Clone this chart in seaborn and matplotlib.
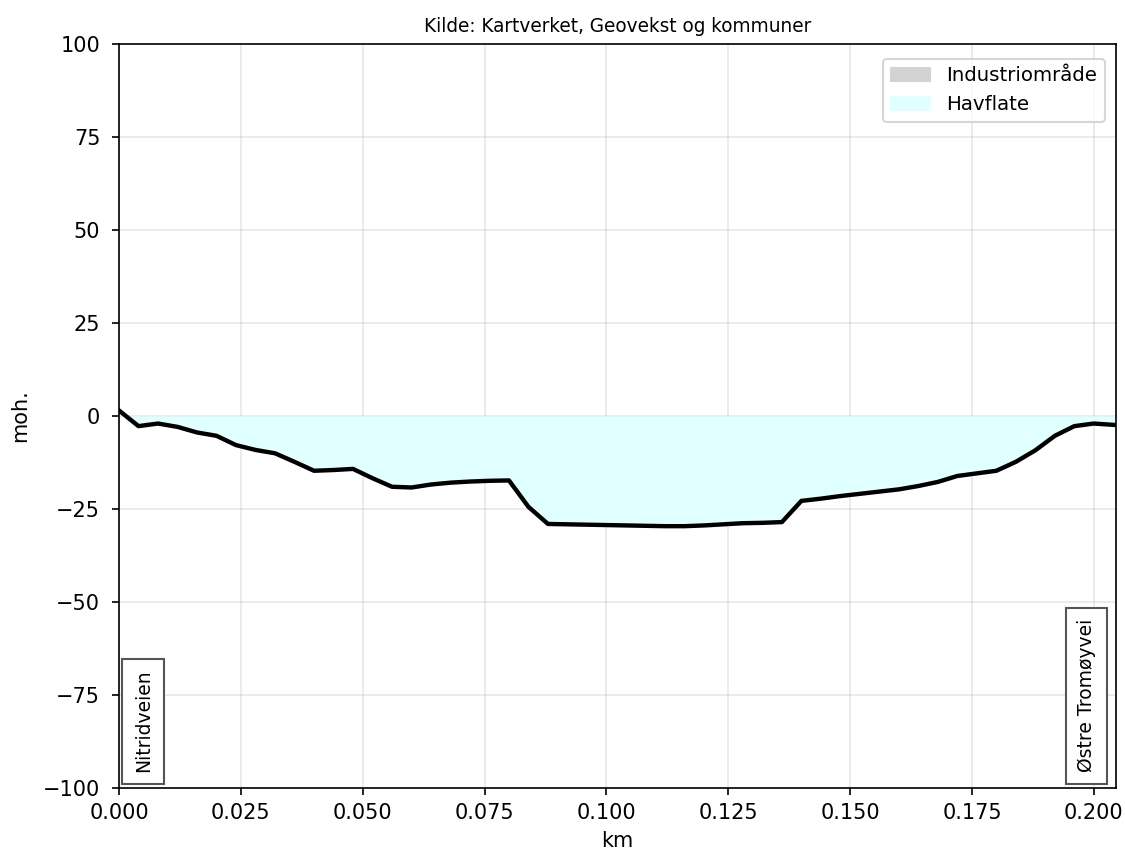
import matplotlib
matplotlib.use("Agg")
import matplotlib.pyplot as plt
import matplotlib.patches as mpatches
import seaborn as sns
import pandas as pd

# Terrain profile along the line (distance in km, elevation in metres above sea level)
distance_km = [0.000, 0.004, 0.008, 0.012, 0.016, 0.020, 0.024, 0.028, 0.032, 0.036,
               0.040, 0.044, 0.048, 0.052, 0.056, 0.060, 0.064, 0.068, 0.072, 0.076,
               0.080, 0.084, 0.088, 0.092, 0.096, 0.100, 0.104, 0.108, 0.112, 0.116,
               0.120, 0.124, 0.128, 0.132, 0.136, 0.140, 0.144, 0.148, 0.152, 0.156,
               0.160, 0.164, 0.168, 0.172, 0.176, 0.180, 0.184, 0.188, 0.192, 0.196,
               0.200, 0.2045]
elevation_m = [1.5, -2.7, -2.0, -2.9, -4.4, -5.3, -7.8, -9.1, -10.0, -12.3,
               -14.7, -14.5, -14.2, -16.7, -19.0, -19.2, -18.4, -17.9, -17.6, -17.4,
               -17.3, -24.4, -29.0, -29.1, -29.2, -29.3, -29.4, -29.5, -29.6, -29.6,
               -29.4, -29.1, -28.8, -28.7, -28.5, -22.8, -22.2, -21.5, -20.9, -20.3,
               -19.7, -18.8, -17.7, -16.1, -15.4, -14.7, -12.3, -9.2, -5.3, -2.7,
               -2.0, -2.4]

start_label = "Nitridveien"
end_label = "Østre Tromøyvei"
legend_labels = ["Industriområde", "Havflate"]
legend_colors = ["lightgray", "lightcyan"]
y_ticks = [-100, -75, -50, -25, 0, 25, 50, 75, 100]
x_ticks = [0.000, 0.025, 0.050, 0.075, 0.100, 0.125, 0.150, 0.175, 0.200]

profile = pd.DataFrame({"km": distance_km, "moh": elevation_m})

DPI = 150
fig = plt.figure(figsize=(1125 / DPI, 853 / DPI), dpi=DPI)
ax = fig.add_axes([0.1058, 0.0762, 0.886, 0.872])

# Sea surface: area between the profile and 0 where the terrain is below sea level
x = profile["km"].to_numpy()
y = profile["moh"].to_numpy()
ax.fill_between(x, y, 0, where=y < 0, interpolate=True,
                color="lightcyan", linewidth=0, zorder=1)

sns.lineplot(data=profile, x="km", y="moh", ax=ax, color="black",
             linewidth=2.1, zorder=3, sort=False)

ax.set_xlim(0, max(distance_km))
ax.set_ylim(-100, 100)
ax.set_xticks(x_ticks)
ax.set_yticks(y_ticks)
ax.tick_params(axis="y", pad=5.5)
ax.grid(True, alpha=0.3)
ax.set_axisbelow(True)
ax.set_xlabel("km")
ax.set_ylabel("moh.", labelpad=6)
ax.set_title("Kilde: Kartverket, Geovekst og kommuner", fontsize=8.9)

box = dict(boxstyle="square,pad=0.6", facecolor="white", edgecolor="#555555", linewidth=1.0)
ax.text(0.0030, -95.8, start_label, rotation=90, ha="left", va="bottom",
        fontsize=9, bbox=box, zorder=4)
ax.text(0.2004, -95.8, end_label, rotation=90, ha="right", va="bottom",
        fontsize=9, bbox=box, zorder=4)

handles = [mpatches.Patch(color=c, label=l) for c, l in zip(legend_colors, legend_labels)]
ax.legend(handles=handles, loc="upper right", fontsize=9.5,
          bbox_to_anchor=(0.999, 0.994))

fig.savefig("out.png", dpi=DPI)
